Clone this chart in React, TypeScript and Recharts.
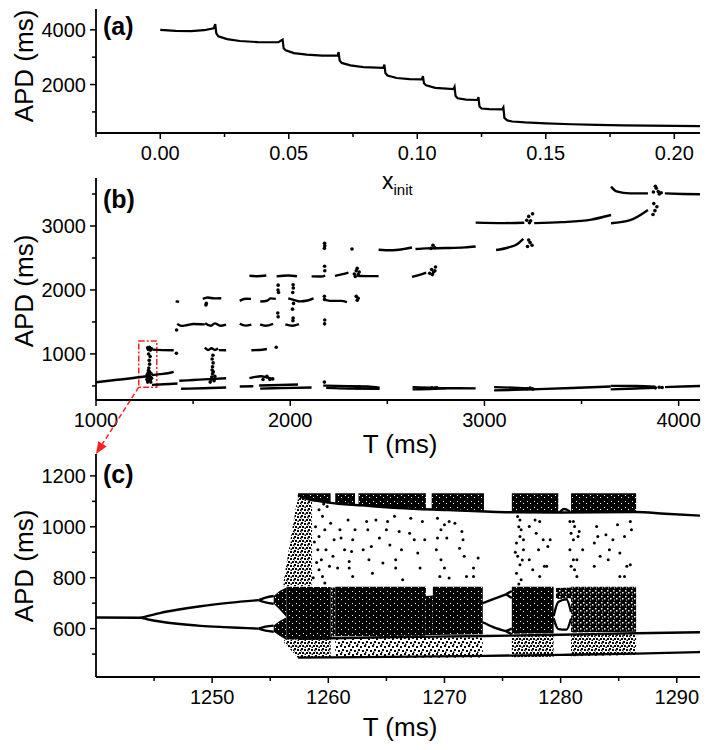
import React from 'react';
import {
  ComposedChart, LineChart, Line, XAxis, YAxis, Scatter, Area, ReferenceArea,
} from 'recharts';

const FONT = 'Liberation Sans, Arial, Helvetica, sans-serif';

// ---------- panel (a) ----------
const aXinit = [0, 0.006, 0.012, 0.017, 0.0208, 0.0214, 0.0218, 0.0226, 0.026, 0.031, 0.038, 0.046,
  0.0476, 0.048, 0.0488, 0.052, 0.057, 0.063, 0.069, 0.0694, 0.0698, 0.0706, 0.074, 0.079, 0.0868,
  0.0872, 0.0876, 0.0884, 0.092, 0.097, 0.1018, 0.1022, 0.1026, 0.1034, 0.107, 0.1141, 0.1145, 0.1149,
  0.1157, 0.119, 0.1234, 0.1238, 0.1242, 0.125, 0.128, 0.1331, 0.1335, 0.1339, 0.135, 0.137, 0.142,
  0.15, 0.16, 0.17, 0.18, 0.19, 0.2, 0.21];
const aAPD = [4000, 3962, 3950, 3985, 4055, 4210, 3870, 3760, 3660, 3590, 3550, 3545,
  3640, 3330, 3250, 3150, 3090, 3060, 3060, 3185, 2880, 2790, 2700, 2640, 2610,
  2730, 2420, 2330, 2240, 2200, 2190, 2310, 2050, 1975, 1880, 1830, 1915, 1580,
  1500, 1450, 1436, 1545, 1200, 1125, 1105, 1096, 1165, 780, 690, 650, 615,
  585, 550, 525, 510, 498, 490, 484];
const aTicks = [-0.025, 0, 0.025, 0.05, 0.075, 0.1, 0.125, 0.15, 0.175, 0.2];
const aMajor = [0, 0.05, 0.1, 0.15, 0.2];
const aYTicks = [1000, 2000, 3000, 4000];
const aYMajor = [2000, 4000];

// ---------- panel (b) ----------
const bBranches: [number, number][][] = [
  [[1000, 557], [1110, 596], [1222, 635], [1262, 652]],
  [[1288, 668], [1330, 684], [1370, 698], [1400, 720]],
  [[1288, 516], [1350, 526], [1420, 538]],
  [[1429, 580], [1500, 592], [1580, 606], [1670, 620]],
  [[1438, 455], [1550, 464], [1670, 476]],
  [[1740, 492], [1810, 495]],
  [[1840, 506], [1950, 514], [2040, 522]],
  [[1845, 458], [1950, 466], [2110, 476]],
  [[1790, 622], [1820, 642], [1850, 652], [1880, 632], [1905, 615]],
  [[2170, 505], [2300, 497], [2400, 490], [2460, 472]],
  [[2185, 470], [2300, 460], [2460, 456]],
  [[2630, 482], [2720, 472], [2800, 464], [2955, 462]],
  [[2630, 446], [2740, 455], [2800, 463]],
  [[3050, 482], [3150, 472], [3250, 458]],
  [[3050, 430], [3250, 448], [3450, 468], [3650, 490]],
  [[3650, 500], [3780, 498], [3880, 488]],
  [[3650, 446], [3780, 460], [3880, 472]],
  [[3930, 482], [4020, 492], [4110, 500]],
  [[1290, 1068], [1340, 1060], [1400, 1058]],
  [[1560, 1098], [1578, 1062], [1595, 1090], [1612, 1062], [1628, 1088]],
  [[1632, 1060], [1670, 1058]],
  [[1800, 1058], [1840, 1062], [1880, 1078]],
  [[1418, 1470], [1440, 1438], [1470, 1452], [1500, 1468], [1560, 1462]],
  [[1562, 1480], [1590, 1440], [1612, 1478], [1640, 1440], [1670, 1458]],
  [[1740, 1472], [1770, 1442], [1800, 1458]],
  [[1845, 1462], [1872, 1440], [1912, 1470]],
  [[1975, 1462], [2010, 1440], [2045, 1466]],
  [[1410, 1822], [1428, 1815]],
  [[1550, 1860], [1575, 1882], [1610, 1868], [1645, 1870]],
  [[1740, 1830], [1770, 1862], [1798, 1860]],
  [[1846, 1820], [1880, 1832], [1900, 1868], [1926, 1860]],
  [[1990, 1870], [2022, 1842], [2050, 1822], [2090, 1835], [2120, 1868]],
  [[2170, 1852], [2205, 1830], [2262, 1830], [2292, 1810]],
  [[1790, 2222], [1830, 2215], [1877, 2226]],
  [[1930, 2212], [1990, 2226], [2035, 2214]],
  [[2110, 2212], [2160, 2210], [2180, 2225]],
  [[2230, 2220], [2270, 2248], [2300, 2272]],
  [[2345, 2222], [2400, 2216], [2455, 2216]],
  [[2627, 2205], [2670, 2240], [2700, 2272]],
  [[2455, 2628], [2520, 2620], [2580, 2638], [2627, 2664]],
  [[2645, 2640], [2700, 2650], [2800, 2655], [2900, 2666], [2955, 2680]],
  [[3060, 2625], [3120, 2660], [3170, 2720], [3200, 2800]],
  [[2955, 3052], [3100, 3045], [3205, 3050]],
  [[3256, 3045], [3400, 3060], [3550, 3100], [3652, 3172]],
  [[3652, 3042], [3750, 3090], [3842, 3250]],
  [[3652, 3615], [3680, 3540], [3750, 3510], [3842, 3510]],
  [[3929, 3510], [4020, 3500], [4110, 3495]],
];
const bDots: [number, number][] = [
  [1262, 600], [1265, 640], [1268, 700], [1270, 580], [1272, 620], [1274, 660], [1276, 720], [1278, 590],
  [1280, 640], [1282, 560], [1284, 690], [1266, 560], [1270, 740], [1276, 610], [1286, 620], [1263, 670],
  [1272, 780], [1276, 840], [1274, 900], [1279, 960], [1271, 1000],
  [1266, 1095], [1270, 1070], [1275, 1105], [1280, 1060], [1285, 1085],
  [1414, 1010], [1415, 1375],
  [1588, 560], [1592, 600], [1596, 640], [1600, 690], [1604, 720], [1608, 580], [1612, 650],
  [1598, 750], [1600, 800], [1603, 860], [1598, 920], [1602, 980],
  [1566, 1765], [1568, 1790],
  [1860, 600], [1880, 650], [1895, 600], [1910, 610], [1928, 1105],
  [1938, 2075], [1937, 2000], [1940, 1960], [1936, 1640], [1938, 1580],
  [2015, 2080], [2016, 2030], [2013, 1960], [2017, 1790], [2012, 1700], [2015, 1560], [2014, 1520],
  [2177, 2730], [2178, 2690], [2176, 2650], [2177, 2370], [2178, 2300], [2176, 1900], [2177, 1850],
  [2178, 1530], [2177, 1470], [2176, 560],
  [2330, 2250], [2340, 2300], [2350, 2240], [2345, 2340], [2355, 2280], [2335, 2210], [2340, 1900],
  [2350, 1870], [2345, 1840], [2318, 2640], [2335, 480], [2345, 470], [2355, 485],
  [2718, 2260], [2728, 2320], [2738, 2280], [2748, 2360], [2732, 2240], [2745, 2300], [2725, 2650],
  [2735, 2700], [2745, 2660], [2730, 470], [2745, 465], [2755, 470],
  [3218, 3090], [3228, 3150], [3238, 3080], [3248, 3190], [3232, 3050], [3222, 2680], [3235, 2740],
  [3245, 2700], [3228, 2780], [3220, 455], [3235, 465], [3250, 450],
  [3870, 3530], [3885, 3590], [3895, 3540], [3910, 3520], [3880, 3620], [3900, 3500], [3868, 3180],
  [3878, 3240], [3888, 3300], [3872, 3350], [3880, 470], [3900, 480], [3915, 475],
];
const bTicks = [1000, 1500, 2000, 2500, 3000, 3500, 4000];
const bMajor = [1000, 2000, 3000, 4000];
const bYTicks = [500, 1000, 1500, 2000, 2500, 3000, 3500];
const bYMajor = [1000, 2000, 3000];
const bZoomBox = { t1: 1220, t2: 1313, apd1: 480, apd2: 1203 };

// ---------- panel (c) ----------
const cBranches: [number, number][][] = [
  [[1240, 644], [1243.8, 643], [1244.5, 650], [1245.5, 661], [1247, 674], [1249, 688], [1251, 699], [1253, 708], [1254, 712]],
  [[1243.8, 643], [1244.5, 636], [1245.5, 628], [1247, 619], [1249, 611], [1251, 606], [1253, 602], [1254, 600]],
  [[1254, 712], [1254.6, 722], [1255.3, 728]], [[1254, 712], [1254.6, 703], [1255.3, 698]],
  [[1254, 600], [1254.6, 608], [1255.3, 612]], [[1254, 600], [1254.6, 592], [1255.3, 588]],
  [[1257.4, 560], [1265, 566], [1273.5, 571], [1280, 576], [1286.5, 582], [1292, 586]],
  [[1257.4, 486], [1265, 489], [1273.5, 493], [1280, 497], [1286.5, 502], [1292, 508]],
  [[1257.4, 1125], [1258.5, 1108], [1260, 1095], [1263, 1084], [1266, 1074], [1270, 1066], [1273.5, 1060],
    [1276, 1057], [1280, 1056], [1286.5, 1058], [1289, 1051], [1292, 1044]],
  [[1273.3, 700], [1274.2, 716], [1275.3, 735]], [[1273.3, 625], [1274.2, 606], [1275.3, 590]],
  [[1275.3, 735], [1275.8, 748]], [[1275.3, 735], [1275.8, 720]],
  [[1275.3, 590], [1275.8, 600]], [[1275.3, 590], [1275.8, 578]],
  [[1279.4, 650], [1279.8, 705], [1280.5, 715], [1280.9, 665]],
  [[1279.4, 640], [1279.8, 598], [1280.5, 596], [1280.9, 640]],
  [[1279.9, 1056], [1280.3, 1070], [1280.8, 1060]],
];
// chaotic bands: [T, low APD, high APD]
const cDenseBands: [number, number, number][][] = [
  [[1255.3, 698, 728], [1255.8, 675, 748], [1256.4, 645, 762]],
  [[1255.3, 588, 612], [1255.8, 572, 630], [1256.4, 555, 645]],
  [[1256.4, 556, 764], [1260.2, 565, 764]],
  [[1260.6, 570, 765], [1268.4, 572, 765]],
  [[1268.4, 575, 728], [1269.0, 575, 730]],
  [[1269.0, 575, 765], [1273.3, 578, 765]],
  [[1275.8, 580, 765], [1279.4, 582, 765]],
  [[1257.4, 1115, 1132], [1258.5, 1100, 1132], [1260.2, 1094, 1132]],
  [[1260.6, 1090, 1132], [1262.3, 1084, 1132]],
  [[1262.6, 1082, 1132], [1268.4, 1068, 1132]],
  [[1268.9, 1066, 1132], [1273.4, 1060, 1132]],
  [[1275.8, 1057, 1132], [1279.8, 1056, 1132]],
  [[1280.9, 1057, 1132], [1286.5, 1058, 1132]],
];
const cTextureBands: [number, number, number][][] = [
  [[1280.9, 585, 765], [1286.5, 588, 765]],
  [[1260.2, 568, 762], [1260.6, 570, 762]],
  [[1279.6, 716, 760], [1280.9, 718, 762]],
];
const cMediumBands: [number, number, number][][] = [
  [[1256.2, 545, 556], [1257.4, 485, 558], [1260.2, 485, 560]],
  [[1275.8, 488, 570], [1279.4, 490, 572]],
  [[1280.9, 492, 575], [1286.5, 496, 578]],
  [[1256.1, 766, 770], [1256.6, 766, 910], [1257.4, 766, 1126], [1258.6, 766, 1115]],
];
const cLightBands: [number, number, number][][] = [
  [[1260.6, 485, 562], [1273.3, 487, 566]],
];
const cDots: [number, number][] = [
  [1259.2, 1067], [1259.5, 1041], [1259.7, 988], [1259.2, 962], [1259.8, 910], [1259.4, 871], [1260.1, 845],
  [1259.5, 805], [1260.2, 1014], [1260.5, 949], [1259.9, 1080], [1259.1, 910], [1259.2, 831], [1260.4, 884], [1259.7, 779],
  [1258.9, 1000], [1258.8, 940], [1259.0, 860], [1258.7, 800], [1259.6, 1090],
  [1261.0, 988], [1261.1, 956], [1261.4, 910], [1260.8, 838], [1261.8, 864], [1261.7, 1027], [1262.1, 949],
  [1262.3, 988], [1261.8, 838], [1262.0, 903], [1262.1, 805], [1263.3, 1021], [1263.4, 988], [1263.0, 910],
  [1263.7, 923], [1263.8, 818], [1263.5, 871], [1264.1, 1027], [1264.4, 956], [1264.7, 858], [1265.1, 1021],
  [1265.0, 988], [1265.3, 929], [1265.8, 871], [1265.8, 838], [1265.7, 1041], [1266.1, 982], [1266.3, 910],
  [1266.4, 792], [1267.1, 1034], [1267.0, 975], [1267.4, 949], [1267.7, 897], [1268.1, 1021], [1268.3, 949],
  [1267.9, 838], [1269.4, 1034], [1269.7, 988], [1270.0, 1008], [1270.2, 956], [1269.4, 956], [1269.3, 910],
  [1269.7, 871], [1270.4, 1021], [1270.9, 1014], [1270.0, 838], [1270.4, 799], [1269.6, 805], [1271.5, 982],
  [1271.6, 949], [1271.3, 916], [1271.7, 884], [1271.9, 805], [1272.5, 805], [1272.9, 877], [1272.5, 838],
  [1276.5, 1027], [1276.6, 988], [1276.5, 962], [1276.2, 936], [1276.8, 910], [1276.3, 884], [1276.5, 851],
  [1276.2, 818], [1276.6, 792], [1276.8, 949], [1277.3, 1001], [1277.8, 1027], [1278.2, 1021], [1278.5, 949],
  [1278.9, 923], [1278.8, 845], [1278.1, 910], [1277.3, 871], [1277.9, 975], [1278.2, 805], [1277.6, 831],
  [1276.3, 1040], [1276.4, 1000], [1276.7, 870], [1276.1, 900], [1276.4, 775],
  [1281.1, 1021], [1281.2, 1001], [1280.9, 975], [1281.1, 949], [1280.8, 910], [1281.1, 871], [1280.9, 845],
  [1281.4, 805], [1281.6, 982], [1281.9, 910], [1283.1, 1001], [1283.2, 962], [1282.9, 936], [1283.4, 884],
  [1282.9, 845], [1283.9, 969], [1284.2, 910], [1284.1, 871], [1284.5, 949], [1284.9, 1008], [1285.1, 897],
  [1285.5, 962], [1285.7, 845], [1286.0, 1021], [1286.1, 988], [1286.0, 851], [1285.1, 805], [1285.5, 805],
  [1279.1, 949], [1278.6, 845], [1281.5, 962], [1281.4, 871], [1281.2, 831], [1280.8, 1021],
];
const cTicks = [1245, 1250, 1255, 1260, 1265, 1270, 1275, 1280, 1285, 1290];
const cMajor = [1250, 1260, 1270, 1280, 1290];
const cYTicks = [500, 600, 700, 800, 900, 1000, 1100, 1200];
const cYMajor = [600, 800, 1000, 1200];

// ---------- layout (page pixels) ----------
const PLOT_L = 96;
const PLOT_R = 700;
const A = { top: 0, h: 170, mt: 9, plotBottom: 133, xd: [-0.025, 0.21], yd: [230, 4760] };
const B = { top: 170, h: 290, mt: 8, plotBottom: 400, xd: [1000, 4110], yd: [280, 3750] };
const C = { top: 445, h: 305, mt: 9, plotBottom: 677, xd: [1240, 1292], yd: [410, 1286] };
const xAxisH = (P: { top: number; h: number; plotBottom: number }) => P.top + P.h - P.plotBottom;

const isIn = (arr: number[], v: number) => arr.some((m) => Math.abs(m - v) < 1e-9);

const makeXTick = (majors: number[], fmt: (v: number) => string) => (props: any) => {
  const { x, y, payload } = props;
  const v = payload.value;
  const major = isIn(majors, v);
  return (
    <g>
      <line x1={x} x2={x} y1={y} y2={y + (major ? 6 : 4)} stroke="#000" strokeWidth={1.5} />
      {major && (
        <text x={x} y={y + 27} textAnchor="middle" fontSize={20} fill="#000" fontFamily={FONT}>
          {fmt(v)}
        </text>
      )}
    </g>
  );
};
const makeYTick = (majors: number[]) => (props: any) => {
  const { x, y, payload } = props;
  const v = payload.value;
  const major = isIn(majors, v);
  return (
    <g>
      <line x1={x - (major ? 6 : 4)} x2={x} y1={y} y2={y} stroke="#000" strokeWidth={1.5} />
      {major && (
        <text x={x - 10} y={y + 7} textAnchor="end" fontSize={20} fill="#000" fontFamily={FONT}>
          {String(v)}
        </text>
      )}
    </g>
  );
};

const toXY = (seg: [number, number][]) => seg.map(([x, y]) => ({ x, y }));
const toRange = (seg: [number, number, number][]) => seg.map(([x, lo, hi]) => ({ x, r: [lo, hi] }));

const dot = (r: number) => (p: any) => <circle cx={p.cx} cy={p.cy} r={r} fill="#000" />;

const axisCommon = {
  axisLine: { stroke: '#000', strokeWidth: 1.8 },
  tickLine: false,
  tickSize: 0,
  tickMargin: 0,
  interval: 0 as const,
  allowDataOverflow: true,
};

function PanelA() {
  const data = aXinit.map((x, i) => ({ x, y: aAPD[i] }));
  return (
    <LineChart width={708} height={A.h} data={data}
      margin={{ top: A.mt, right: 708 - PLOT_R, bottom: 0, left: 0 }}>
      <XAxis dataKey="x" type="number" domain={A.xd} ticks={aTicks} height={xAxisH(A)}
        tick={makeXTick(aMajor, (v) => v.toFixed(2))} {...axisCommon} />
      <YAxis type="number" domain={A.yd} ticks={aYTicks} width={PLOT_L}
        tick={makeYTick(aYMajor)} {...axisCommon} />
      <Line dataKey="y" type="linear" stroke="#000" strokeWidth={2.2} dot={false} isAnimationActive={false} />
    </LineChart>
  );
}

function PanelB() {
  return (
    <ComposedChart width={708} height={B.h}
      margin={{ top: B.mt, right: 708 - PLOT_R, bottom: 0, left: 0 }}>
      <XAxis dataKey="x" type="number" domain={B.xd} ticks={bTicks} height={xAxisH(B)}
        tick={makeXTick(bMajor, (v) => String(v))} {...axisCommon} />
      <YAxis dataKey="y" type="number" domain={B.yd} ticks={bYTicks} width={PLOT_L}
        tick={makeYTick(bYMajor)} {...axisCommon} />
      {bBranches.map((seg, i) => (
        <Line key={'b' + i} data={toXY(seg)} dataKey="y" type="monotone" stroke="#000"
          strokeWidth={2.4} dot={false} isAnimationActive={false} />
      ))}
      <Scatter data={toXY(bDots)} fill="#000" shape={dot(1.8)} isAnimationActive={false} />
      <ReferenceArea x1={bZoomBox.t1} x2={bZoomBox.t2} y1={bZoomBox.apd1} y2={bZoomBox.apd2}
        stroke="#ff2020" strokeWidth={1.5} strokeDasharray="6 2 2 2" fill="#fff" fillOpacity={0} />
    </ComposedChart>
  );
}

function PanelC() {
  const areas = (bands: [number, number, number][][], pat: string, k: string) =>
    bands.map((seg, i) => (
      <Area key={k + i} data={toRange(seg)} dataKey="r" type="linear" stroke="none"
        fill={`url(#${pat})`} fillOpacity={1} isAnimationActive={false} dot={false} activeDot={false} />
    ));
  return (
    <ComposedChart width={708} height={C.h}
      margin={{ top: C.mt, right: 708 - PLOT_R, bottom: 0, left: 0 }}>
      <defs>
        <pattern id="pDense" width="7" height="6" patternUnits="userSpaceOnUse">
          <rect width="7" height="6" fill="#000" />
          <rect x="2" y="2" width="1" height="1" fill="#fff" />
          <rect x="5" y="4" width="1" height="1" fill="#fff" />
        </pattern>
        <pattern id="pTex" width="6" height="6" patternUnits="userSpaceOnUse">
          <rect width="6" height="6" fill="#000" />
          <rect x="1" y="1" width="1.5" height="1.5" fill="#fff" />
          <rect x="4" y="3" width="1.5" height="1.5" fill="#fff" />
          <rect x="2" y="4.5" width="1" height="1" fill="#fff" />
        </pattern>
        <pattern id="pMed" width="7" height="7" patternUnits="userSpaceOnUse">
          <rect x="0" y="0" width="2" height="2" fill="#000" />
          <rect x="3" y="1" width="2" height="2" fill="#000" />
          <rect x="5" y="4" width="2" height="2" fill="#000" />
          <rect x="1" y="4" width="2" height="2" fill="#000" />
          <rect x="3.5" y="5.5" width="1.5" height="1.5" fill="#000" />
          <rect x="6" y="1.5" width="1" height="1.5" fill="#000" />
          <rect x="0" y="2.5" width="1" height="1" fill="#000" />
        </pattern>
        <pattern id="pLight" width="8" height="8" patternUnits="userSpaceOnUse">
          <rect x="0" y="1" width="2" height="2" fill="#000" />
          <rect x="4" y="0" width="2" height="2" fill="#000" />
          <rect x="2" y="5" width="2" height="2" fill="#000" />
          <rect x="6" y="4" width="2" height="2" fill="#000" />
          <rect x="5" y="6.5" width="1.5" height="1.5" fill="#000" />
        </pattern>
      </defs>
      <XAxis dataKey="x" type="number" domain={C.xd} ticks={cTicks} height={xAxisH(C)}
        tick={makeXTick(cMajor, (v) => String(v))} {...axisCommon} />
      <YAxis dataKey="y" type="number" domain={C.yd} ticks={cYTicks} width={PLOT_L}
        tick={makeYTick(cYMajor)} {...axisCommon} />
      {areas(cLightBands, 'pLight', 'l')}
      {areas(cMediumBands, 'pMed', 'm')}
      {areas(cTextureBands, 'pTex', 'x')}
      {areas(cDenseBands, 'pDense', 'd')}
      {cBranches.map((seg, i) => (
        <Line key={'c' + i} data={toXY(seg)} dataKey="y" type="monotone" stroke="#000"
          strokeWidth={2.4} dot={false} isAnimationActive={false} />
      ))}
      <Scatter data={toXY(cDots)} fill="#000" shape={dot(1.5)} isAnimationActive={false} />
    </ComposedChart>
  );
}

function Overlay() {
  // arrow from the zoom box corner in (b) to the top of the (c) axis
  const bPlotTop = B.top + B.mt;
  const bx = (t: number) => PLOT_L + ((t - B.xd[0]) / (B.xd[1] - B.xd[0])) * (PLOT_R - PLOT_L);
  const by = (v: number) => bPlotTop + ((B.yd[1] - v) / (B.yd[1] - B.yd[0])) * (B.plotBottom - bPlotTop);
  const sx = bx(bZoomBox.t1);
  const sy = by(bZoomBox.apd1);
  const ex = PLOT_L;
  const ey = C.top + C.mt;
  const ang = Math.atan2(ey - sy, ex - sx);
  const hl = 12;
  const hw = 5;
  const bxh = ex - hl * Math.cos(ang);
  const byh = ey - hl * Math.sin(ang);
  const p1 = `${bxh + hw * Math.sin(ang)},${byh - hw * Math.cos(ang)}`;
  const p2 = `${bxh - hw * Math.sin(ang)},${byh + hw * Math.cos(ang)}`;
  return (
    <svg width={708} height={750} style={{ position: 'absolute', left: 0, top: 0, pointerEvents: 'none' }}
      fontFamily={FONT}>
      <text transform="translate(33,66) rotate(-90)" textAnchor="middle" fontSize={26}>APD (ms)</text>
      <text transform="translate(33,291) rotate(-90)" textAnchor="middle" fontSize={26}>APD (ms)</text>
      <text transform="translate(33,566) rotate(-90)" textAnchor="middle" fontSize={26}>APD (ms)</text>
      <text x={103} y={35} fontSize={25} fontWeight="bold">(a)</text>
      <text x={103} y={208} fontSize={25} fontWeight="bold">(b)</text>
      <text x={103} y={483} fontSize={25} fontWeight="bold">(c)</text>
      <text x={382} y={189} fontSize={23}>x<tspan dy={6} fontSize={15}>init</tspan></text>
      <text x={400} y={453} textAnchor="middle" fontSize={26}>T (ms)</text>
      <text x={400} y={736} textAnchor="middle" fontSize={26}>T (ms)</text>
      <line x1={sx} y1={sy} x2={bxh} y2={byh} stroke="#ff2020" strokeWidth={1.5} strokeDasharray="5 3" />
      <polygon points={`${ex},${ey} ${p1} ${p2}`} fill="#ff2020" />
    </svg>
  );
}

export default function App() {
  return (
    <div style={{ position: 'absolute', left: 0, top: 0, width: 708, height: 750, background: '#fff', fontFamily: FONT }}>
      <div style={{ position: 'absolute', left: 0, top: A.top }}><PanelA /></div>
      <div style={{ position: 'absolute', left: 0, top: B.top }}><PanelB /></div>
      <div style={{ position: 'absolute', left: 0, top: C.top }}><PanelC /></div>
      <Overlay />
    </div>
  );
}
